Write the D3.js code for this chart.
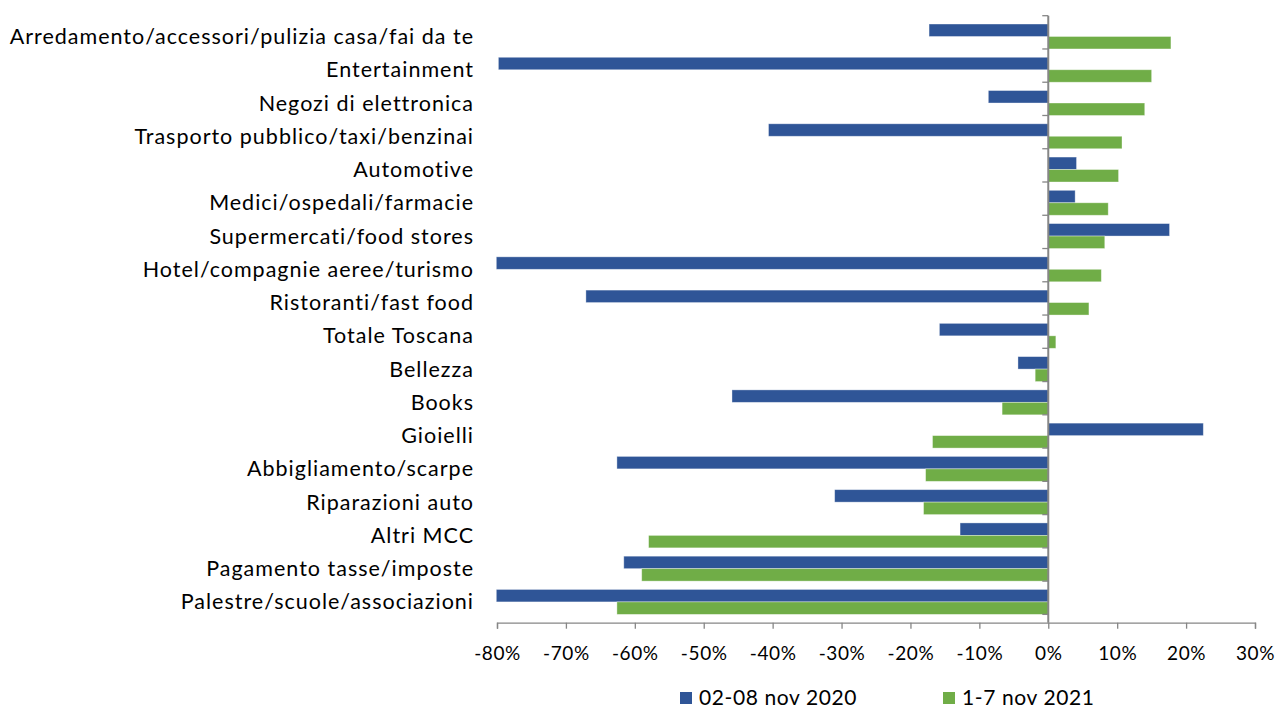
<!DOCTYPE html>
<html>
<head>
<meta charset="utf-8">
<script src="https://cdn.jsdelivr.net/npm/d3@7"></script>
<style>
  body { margin: 0; background: #fff; }
  svg { display: block; }
  text { font-family: Lato, "Open Sans", sans-serif; fill: #000; }
</style>
</head>
<body>
<div id="chart"></div>
<script>
// Categories, top to bottom
const categories = [
  "Arredamento/accessori/pulizia casa/fai da te",
  "Entertainment",
  "Negozi di elettronica",
  "Trasporto pubblico/taxi/benzinai",
  "Automotive",
  "Medici/ospedali/farmacie",
  "Supermercati/food stores",
  "Hotel/compagnie aeree/turismo",
  "Ristoranti/fast food",
  "Totale Toscana",
  "Bellezza",
  "Books",
  "Gioielli",
  "Abbigliamento/scarpe",
  "Riparazioni auto",
  "Altri MCC",
  "Pagamento tasse/imposte",
  "Palestre/scuole/associazioni"
];

// Series values (% change)
const values2020 = [-17.3, -79.8, -8.7, -40.6, 4.1, 3.9, 17.6, -80.1, -67.1, -15.8,
  -4.4, -45.9, 22.5, -62.6, -31.0, -12.8, -61.6, -80.1];
const values2021 = [17.8, 15.0, 14.0, 10.7, 10.2, 8.7, 8.2, 7.7, 5.9, 1.1,
  -1.9, -6.7, -16.8, -17.8, -18.1, -58.0, -59.0, -62.6];

const seriesNames = ["02-08 nov 2020", "1-7 nov 2021"];
const tickValues = [-80, -70, -60, -50, -40, -30, -20, -10, 0, 10, 20, 30];

// Constants
const width = 1287;
const height = 713;
const COLOR_2020 = "#2F5597";
const COLOR_2021 = "#70AD47";
const AXIS_COLOR = "#868686";

const svg = d3.select("#chart")
  .append("svg")
  .attr("width", width)
  .attr("height", height);

// Scales
const x = d3.scaleLinear().domain([-80, 30]).range([497, 1255]);
const y = d3.scaleBand().domain(categories).range([15.7, 622.7]).padding(0.25);
const ySub = d3.scaleBand().domain(seriesNames).range([0, y.bandwidth()]);

const rows = categories.map((c, i) => ({
  cat: c,
  vals: [
    { s: seriesNames[0], v: values2020[i], color: COLOR_2020 },
    { s: seriesNames[1], v: values2021[i], color: COLOR_2021 }
  ]
}));

// Bars
svg.append("g")
  .selectAll("g")
  .data(rows)
  .join("g")
  .attr("transform", d => `translate(0,${y(d.cat)})`)
  .selectAll("rect")
  .data(d => d.vals)
  .join("rect")
  .attr("x", d => x(Math.min(0, d.v)))
  .attr("y", d => ySub(d.s))
  .attr("width", d => Math.abs(x(d.v) - x(0)))
  .attr("height", ySub.bandwidth())
  .attr("fill", d => d.color)
  .attr("stroke", "rgba(255,255,255,0.45)")
  .attr("stroke-width", 0.8);

// X axis (bottom)
const xAxis = svg.append("g")
  .attr("transform", `translate(0,${y.range()[1]})`)
  .call(d3.axisBottom(x).tickValues(tickValues).tickSize(6).tickPadding(18)
    .tickFormat(d => d + "%"));
xAxis.select(".domain").attr("stroke", AXIS_COLOR).attr("stroke-width", 1.3);
xAxis.selectAll(".tick line").attr("stroke", AXIS_COLOR).attr("stroke-width", 1.3);
xAxis.selectAll(".tick text")
  .attr("font-size", "19px")
  .attr("font-family", "Lato, sans-serif")
  .attr("letter-spacing", "0.6px")
  .attr("fill", "#000");

// Y axis at 0%, with ticks between categories
const boundaries = d3.range(categories.length + 1).map(i => y.range()[0] + i * y.step());
const yAxis = svg.append("g");
yAxis.append("line")
  .attr("x1", x(0)).attr("x2", x(0))
  .attr("y1", y.range()[0]).attr("y2", y.range()[1])
  .attr("stroke", AXIS_COLOR).attr("stroke-width", 2);
yAxis.selectAll(".ytick")
  .data(boundaries)
  .join("line")
  .attr("class", "ytick")
  .attr("x1", x(0) - 6).attr("x2", x(0))
  .attr("y1", d => d).attr("y2", d => d)
  .attr("stroke", AXIS_COLOR).attr("stroke-width", 1.3);

// Category labels
svg.append("g")
  .selectAll("text")
  .data(categories)
  .join("text")
  .attr("x", 474)
  .attr("y", d => y(d) + y.bandwidth() / 2)
  .attr("dy", "0.35em")
  .attr("text-anchor", "end")
  .attr("font-size", "21.5px")
  .attr("letter-spacing", "1px")
  .text(d => d);

// Legend
const legendX = [680, 943];
const legend = svg.append("g");
seriesNames.forEach((name, i) => {
  legend.append("rect")
    .attr("x", legendX[i]).attr("y", 692)
    .attr("width", 12).attr("height", 12)
    .attr("fill", i === 0 ? COLOR_2020 : COLOR_2021);
  legend.append("text")
    .attr("x", legendX[i] + 19).attr("y", 698)
    .attr("dy", "0.35em")
    .attr("font-size", "21px")
    .attr("letter-spacing", "0.6px")
    .text(name);
});
</script>
</body>
</html>
